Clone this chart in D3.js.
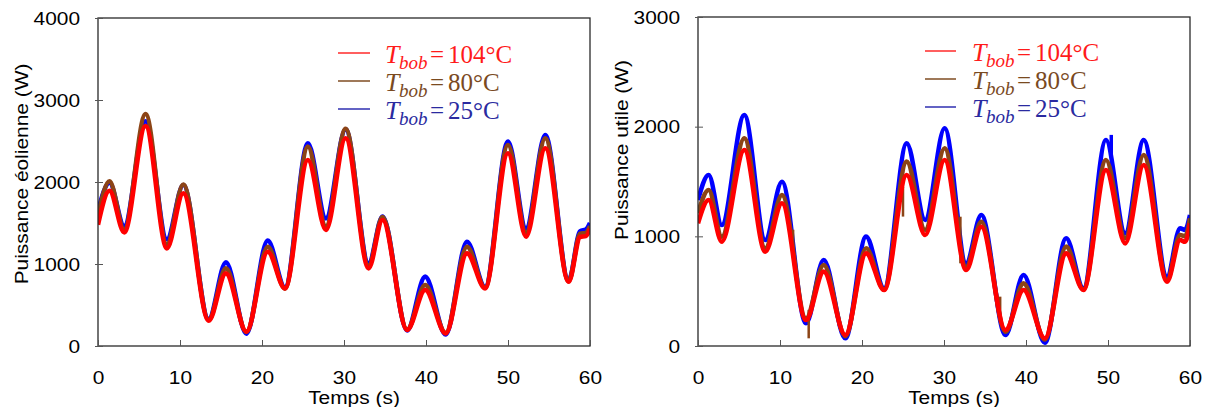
<!DOCTYPE html>
<html>
<head>
<meta charset="utf-8">
<script src="https://cdn.jsdelivr.net/npm/d3@7"></script>
<style>
  html, body { margin: 0; padding: 0; background: #fff; }
  svg { display: block; }
</style>
</head>
<body>
<svg id="chart" width="1211" height="407"></svg>
<script>
// ---------- DATA ----------
const xTicks = [0, 10, 20, 30, 40, 50, 60];
const yTicksLeft = [0, 1000, 2000, 3000, 4000];
const yTicksRight = [0, 1000, 2000, 3000];

const legendValues = ["104°C", "80°C", "25°C"];
const seriesNames = ["104", "80", "25"];

// Puissance éolienne (W)
const timeLeft  = [0, 1.4, 3.2, 5.8, 8.4, 10.4, 13.5, 15.6, 18.1, 20.7, 22.8, 25.6, 27.8, 30.2, 33.0, 34.7, 37.7, 39.9, 42.4, 45.0, 47.2, 50.0, 52.2, 54.55, 57.4, 58.8, 59.5, 60];
const red104Left  = [1480, 1894, 1386, 2683, 1191, 1862, 310, 886, 175, 1150, 703, 2268, 1415, 2533, 947, 1537, 195, 683, 154, 1130, 703, 2350, 1333, 2411, 784, 1330, 1340, 1430];
const brown80Left = [1580, 2010, 1420, 2830, 1240, 1970, 320, 947, 170, 1211, 700, 2431, 1460, 2650, 980, 1573, 200, 744, 160, 1211, 710, 2451, 1380, 2533, 790, 1370, 1380, 1460];
const blue25Left  = [1650, 1990, 1463, 2740, 1301, 1963, 330, 1020, 150, 1285, 715, 2472, 1557, 2642, 1008, 1580, 190, 846, 140, 1272, 720, 2492, 1435, 2573, 800, 1400, 1420, 1500];

// Puissance utile (W)
const timeRight = [0, 1.3, 2.9, 5.65, 8.2, 10.24, 13.17, 15.33, 17.97, 20.5, 22.7, 25.45, 27.7, 30.08, 32.7, 34.55, 37.5, 39.7, 42.3, 44.9, 47.0, 49.75, 52.1, 54.35, 57.2, 58.8, 59.4, 60];
const red104Right  = [1119, 1331, 951, 1787, 860, 1301, 237, 678, 100, 845, 511, 1559, 1012, 1696, 693, 1088, 146, 511, 70, 845, 511, 1605, 936, 1650, 587, 967, 950, 1119];
const brown80Right = [1210, 1422, 997, 1894, 891, 1377, 250, 739, 90, 891, 515, 1681, 1058, 1803, 720, 1133, 130, 571, 60, 906, 515, 1696, 982, 1742, 600, 1012, 1000, 1164];
const blue25Right  = [1331, 1559, 1103, 2106, 967, 1498, 207, 784, 70, 997, 526, 1848, 1149, 1985, 754, 1194, 100, 647, 30, 982, 526, 1878, 1027, 1878, 632, 1073, 1060, 1194];

// short measurement glitches (time, low, high)
const brownSpikeTimeRight = [11.6, 13.5, 25.0, 32.0, 36.85];
const brownSpikeLowRight  = [880, 70, 1180, 754, 207];
const brownSpikeHighRight = [1060, 330, 1450, 1179, 450];
const blueSpikeTimeRight  = [50.4];
const blueSpikeLowRight   = [1750];
const blueSpikeHighRight  = [1925];

// ---------- DRAW ----------
const svg = d3.select("#chart");
svg.append("rect").attr("width", 1211).attr("height", 407).attr("fill", "#fff");

const lineColors = { "104": "#ff0000", "80": "#8c4416", "25": "#0000ff" };
const legendLineColors = { "104": "#ff2a2a", "80": "#7f4d22", "25": "#2f2fb0" };
const textColors = { "104": "#ff1a1a", "80": "#7a4a1f", "25": "#2a2aa0" };
const SANS = "'Liberation Sans', Arial, Helvetica, sans-serif";
const SERIF = "'Liberation Serif', 'Times New Roman', serif";
const SX = 1.1;

function drawChart(cfg) {
  const { left, right, top, bottom, yMax, yTicks, yLabel, times, series, legend, spikes, id } = cfg;
  const x = d3.scaleLinear().domain([0, 60]).range([left, right]);
  const y = d3.scaleLinear().domain([0, yMax]).range([bottom, top]);
  const g = svg.append("g");

  svg.append("clipPath").attr("id", "clip" + id)
    .append("rect").attr("x", left).attr("y", top).attr("width", right - left).attr("height", bottom - top);

  const line = d3.line().x(d => x(d[0])).y(d => y(d[1])).curve(d3.curveMonotoneX);
  const dg = g.append("g").attr("clip-path", `url(#clip${id})`);
  const order = ["25", "80", "104"];
  order.forEach(k => {
    const vals = series[k];
    dg.append("path")
      .attr("d", line(times.map((t, i) => [t, vals[i]])))
      .attr("fill", "none")
      .attr("stroke", lineColors[k])
      .attr("stroke-width", 4.6)
      .attr("stroke-linejoin", "round");
    if (spikes && spikes[k]) {
      const s = spikes[k];
      s.t.forEach((t, i) => {
        dg.append("line")
          .attr("x1", x(t)).attr("x2", x(t))
          .attr("y1", y(s.lo[i])).attr("y2", y(s.hi[i]))
          .attr("stroke", lineColors[k]).attr("stroke-width", k === "25" ? 3.5 : 2.5);
      });
    }
  });

  // frame
  g.append("rect")
    .attr("x", left).attr("y", top).attr("width", right - left).attr("height", bottom - top)
    .attr("fill", "none").attr("stroke", "#2a2a2a").attr("stroke-width", 1.3);

  // x axis
  const xa = g.append("g").attr("transform", `translate(0,${bottom})`)
    .call(d3.axisBottom(x).tickValues(xTicks).tickSizeInner(-6).tickSizeOuter(0).tickPadding(25).tickFormat(d3.format("d")));
  xa.select(".domain").remove();
  xa.selectAll(".tick line").attr("stroke", "#555").attr("stroke-width", 1);
  xa.selectAll(".tick text")
    .attr("font-family", SANS).attr("font-size", 19).attr("fill", "#000")
    .attr("transform", `scale(${SX},1)`);

  // y axis
  const ya = g.append("g").attr("transform", `translate(${left},0)`)
    .call(d3.axisLeft(y).tickValues(yTicks).tickSizeInner(3).tickSizeOuter(0).tickPadding(15).tickFormat(d3.format("d")));
  ya.select(".domain").remove();
  ya.selectAll(".tick line").attr("stroke", "#555").attr("x2", 5).attr("x1", -3);
  ya.selectAll(".tick text")
    .attr("font-family", SANS).attr("font-size", 19).attr("fill", "#000")
    .attr("x", -18 / SX).attr("transform", `scale(${SX},1)`);

  // axis titles
  g.append("text")
    .attr("transform", `translate(${left + 256},${bottom + 58}) scale(${SX},1)`)
    .attr("text-anchor", "middle").attr("font-family", SANS).attr("font-size", 19)
    .text("Temps (s)");
  g.append("text")
    .attr("transform", `translate(${left - 70},${cfg.yLabelY}) rotate(-90) scale(${SX},1)`)
    .attr("text-anchor", "middle").attr("font-family", SANS).attr("font-size", 19)
    .text(yLabel);

  // legend
  seriesNames.forEach((k, i) => {
    const ly = legend.y + i * 28;
    const tx = legend.tx;
    g.append("line")
      .attr("x1", legend.lx1).attr("x2", legend.lx2).attr("y1", ly).attr("y2", ly)
      .attr("stroke", legendLineColors[k]).attr("stroke-width", 1.5);
    const base = ly + 10;
    g.append("text")
      .attr("x", tx).attr("y", base)
      .attr("font-family", SERIF).attr("font-size", 26).attr("font-style", "italic")
      .attr("fill", textColors[k]).text("T");
    g.append("text")
      .attr("x", tx + 14).attr("y", base + 6)
      .attr("font-family", SERIF).attr("font-size", 19).attr("font-style", "italic")
      .attr("fill", textColors[k]).text("bob");
    g.append("text")
      .attr("x", tx + 45).attr("y", base)
      .attr("font-family", SERIF).attr("font-size", 25)
      .attr("fill", textColors[k]).text("=");
    g.append("text")
      .attr("x", tx + 63).attr("y", base)
      .attr("font-family", SERIF).attr("font-size", 25)
      .attr("fill", textColors[k]).text(legendValues[i]);
  });
}

drawChart({
  id: "L", left: 98, right: 590, top: 18, bottom: 346, yMax: 4000, yTicks: yTicksLeft,
  yLabel: "Puissance éolienne (W)", yLabelY: 174,
  times: timeLeft,
  series: { "104": red104Left, "80": brown80Left, "25": blue25Left },
  legend: { lx1: 338, lx2: 370, tx: 385, y: 53 }
});

drawChart({
  id: "R", left: 698, right: 1190, top: 17, bottom: 346, yMax: 3000, yTicks: yTicksRight,
  yLabel: "Puissance utile (W)", yLabelY: 150,
  times: timeRight,
  series: { "104": red104Right, "80": brown80Right, "25": blue25Right },
  spikes: {
    "80": { t: brownSpikeTimeRight, lo: brownSpikeLowRight, hi: brownSpikeHighRight },
    "25": { t: blueSpikeTimeRight, lo: blueSpikeLowRight, hi: blueSpikeHighRight }
  },
  legend: { lx1: 925, lx2: 956, tx: 972, y: 51 }
});
</script>
</body>
</html>
